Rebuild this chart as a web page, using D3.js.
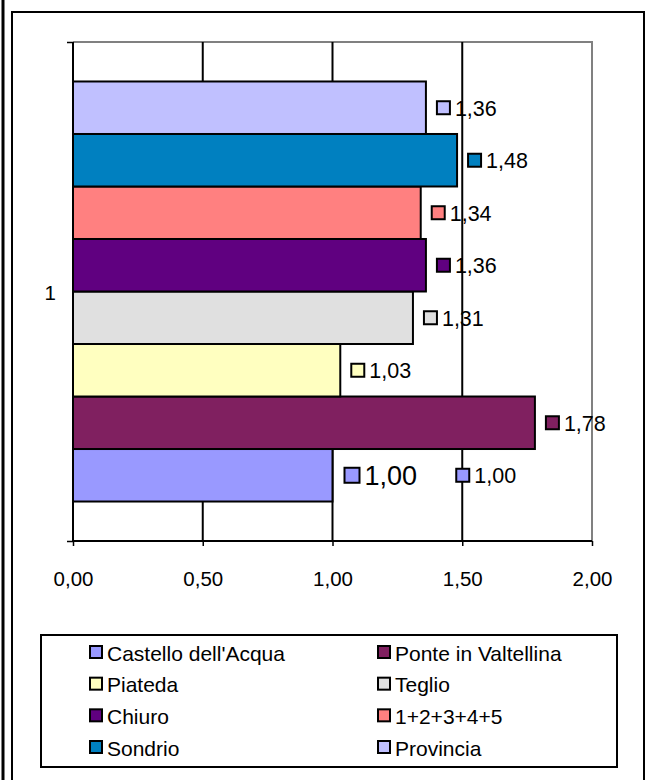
<!DOCTYPE html>
<html>
<head>
<meta charset="utf-8">
<script src="https://cdn.jsdelivr.net/npm/d3@7"></script>
<style>
  html, body { margin: 0; padding: 0; background: #fff; }
  svg { display: block; font-family: Arial, "Liberation Sans", sans-serif; }
</style>
</head>
<body>
<svg id="chart" width="646" height="780"></svg>
<script>
// ---- Data ----
const categories = ["1"];
const seriesNames = ["Castello dell'Acqua", "Ponte in Valtellina", "Piateda", "Teglio", "Chiuro", "1+2+3+4+5", "Sondrio", "Provincia"];
const seriesValues = [1.00, 1.78, 1.03, 1.31, 1.36, 1.34, 1.48, 1.36];
const seriesColors = ["#9999FF", "#802060", "#FFFFC0", "#E0E0E0", "#600080", "#FF8080", "#0080C0", "#C0C0FF"];
const xTicks = [0, 0.5, 1.0, 1.5, 2.0];
const fmt = v => d3.format(".2f")(v).replace(".", ",");

const svg = d3.select("#chart");

// outer frame lines
svg.append("line").attr("x1", 3).attr("x2", 3).attr("y1", 0).attr("y2", 780)
  .attr("stroke", "#000").attr("stroke-width", 3);
svg.append("rect").attr("x", 12).attr("y", 12).attr("width", 632).attr("height", 790)
  .attr("fill", "none").attr("stroke", "#000").attr("stroke-width", 2);

// plot area
const L = 73, R = 592, T = 42, B = 541;
const x = d3.scaleLinear().domain([0, 2]).range([L, R]);
const yCat = d3.scaleBand().domain(categories).range([T, B]).paddingInner(0).paddingOuter(0.094);
const ySer = d3.scaleBand().domain(seriesNames.slice().reverse()).range([0, yCat.bandwidth()]);

// plot border (top/right gray)
svg.append("path").attr("d", `M${L},${T}H${R}V${B}`).attr("fill", "none")
  .attr("stroke", "#808080").attr("stroke-width", 2);

// gridlines
svg.append("g").selectAll("line").data(xTicks.filter(t => t > 0 && t < 2)).join("line")
  .attr("x1", d => x(d)).attr("x2", d => x(d)).attr("y1", T).attr("y2", B)
  .attr("stroke", "#000").attr("stroke-width", 2);

// bars
const g = svg.append("g");
seriesNames.forEach((name, i) => {
  const y0 = yCat("1") + ySer(name);
  g.append("rect")
    .attr("x", x(0)).attr("y", y0)
    .attr("width", x(seriesValues[i]) - x(0)).attr("height", ySer.bandwidth())
    .attr("fill", seriesColors[i]).attr("stroke", "#000").attr("stroke-width", 2);
});

// x axis
const xAxis = d3.axisBottom(x).tickValues(xTicks).tickFormat(fmt).tickSize(5).tickPadding(25);
const ax = svg.append("g").attr("transform", `translate(0,${B})`).call(xAxis);
ax.select(".domain").attr("stroke", "#000").attr("stroke-width", 2).attr("d", `M${L},0H${R}`);
ax.selectAll(".tick line").attr("stroke", "#000").attr("stroke-width", 1.5);
ax.selectAll(".tick text").attr("font-size", 20.5).attr("fill", "#000")
  .attr("font-family", "Arial, 'Liberation Sans', sans-serif");

// y axis
const yAxis = d3.axisLeft(d3.scaleLinear().domain([0, 1]).range([B, T])).tickValues([0, 1]).tickSize(6).tickFormat("");
const ay = svg.append("g").attr("transform", `translate(${L},0)`).call(yAxis);
ay.select(".domain").attr("stroke", "#000").attr("stroke-width", 2).attr("d", `M0,${T}V${B}`);
ay.selectAll(".tick line").attr("stroke", "#000").attr("stroke-width", 1.5);
svg.append("text").attr("x", 56).attr("y", yCat("1") + yCat.bandwidth() / 2 + 1)
  .attr("text-anchor", "end").attr("dominant-baseline", "central")
  .attr("font-size", 20.5).text(categories[0]);

// data labels
function dataLabel(i, xKey, size, keySize) {
  const name = seriesNames[i];
  const cy = yCat("1") + ySer(name) + ySer.bandwidth() / 2;
  g.append("rect").attr("x", xKey).attr("y", cy - keySize / 2)
    .attr("width", keySize).attr("height", keySize)
    .attr("fill", seriesColors[i]).attr("stroke", "#000").attr("stroke-width", 2);
  g.append("text").attr("x", xKey + keySize + 5).attr("y", cy + 1)
    .attr("dominant-baseline", "central").attr("font-size", size).attr("fill", "#000")
    .text(fmt(seriesValues[i]));
}
seriesNames.forEach((name, i) => {
  if (i === 0) {
    dataLabel(i, x(seriesValues[i]) + 12, 27, 15);
    dataLabel(i, x(1.5) - 6, 21.5, 13);
  } else {
    dataLabel(i, x(seriesValues[i]) + 11, 21.5, 13);
  }
});

// legend
svg.append("rect").attr("x", 41).attr("y", 635).attr("width", 576).attr("height", 132)
  .attr("fill", "#fff").attr("stroke", "#000").attr("stroke-width", 2);
const rowY = d3.scalePoint().domain(d3.range(4)).range([652, 747]);
const colX = [90, 378];
seriesNames.forEach((name, i) => {
  const col = i % 2, row = Math.floor(i / 2);
  const cy = rowY(row);
  svg.append("rect").attr("x", colX[col]).attr("y", cy - 6).attr("width", 12).attr("height", 12)
    .attr("fill", seriesColors[i]).attr("stroke", "#000").attr("stroke-width", 2);
  svg.append("text").attr("x", colX[col] + 17).attr("y", cy + 1)
    .attr("dominant-baseline", "central").attr("font-size", 21).text(name);
});
</script>
</body>
</html>
